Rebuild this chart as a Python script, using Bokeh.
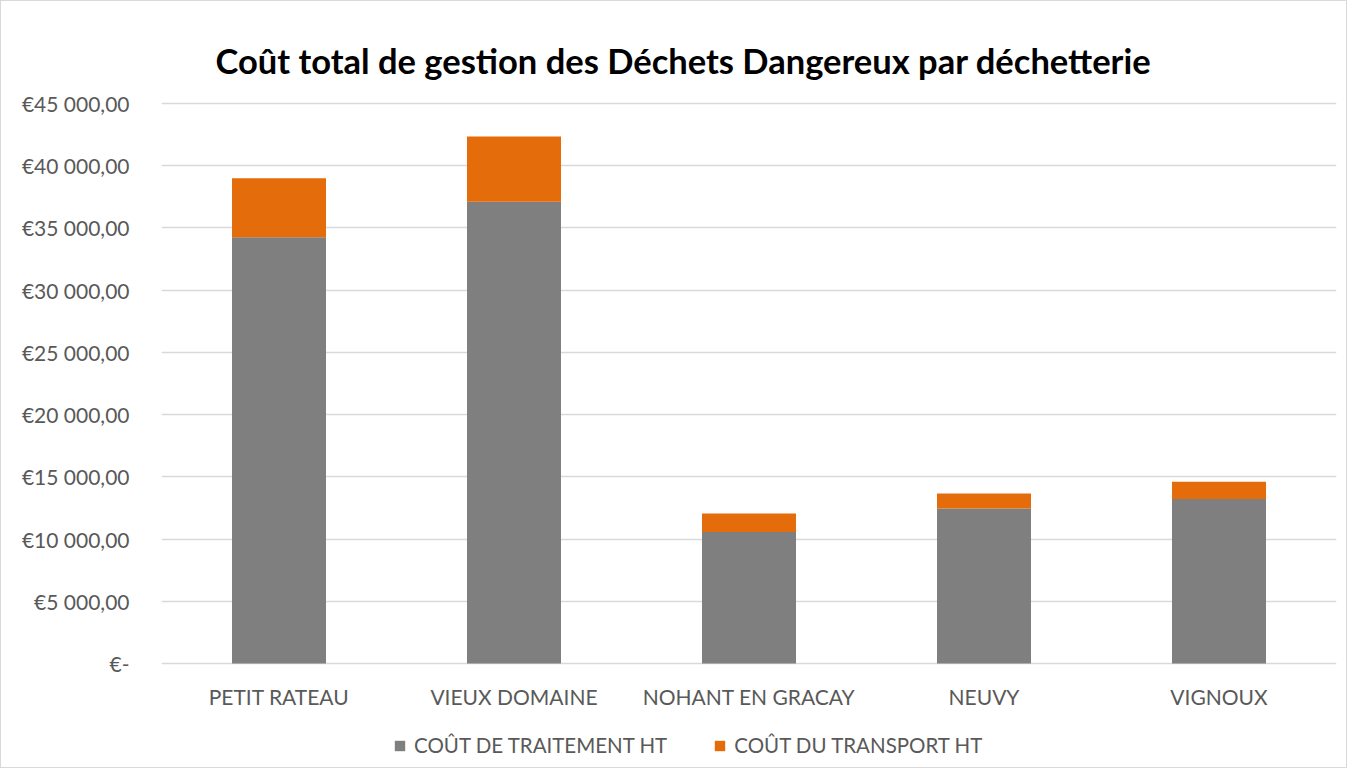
from bokeh.plotting import figure
from bokeh.models import (Range1d, FactorRange, FixedTicker, Legend, LegendItem, Label, ColumnDataSource)
from bokeh.core.properties import value
from bokeh.embed import file_html
from bokeh.resources import INLINE

categories = ["PETIT RATEAU", "VIEUX DOMAINE", "NOHANT EN GRACAY", "NEUVY", "VIGNOUX"]
traitement = [34250, 37100, 10560, 12460, 13210]
transport = [4740, 5250, 1500, 1210, 1390]
series_names = ["COÛT DE TRAITEMENT HT", "COÛT DU TRANSPORT HT"]
y_ticks = [0, 5000, 10000, 15000, 20000, 25000, 30000, 35000, 40000, 45000]
y_tick_labels = ["€-", "€5 000,00", "€10 000,00", "€15 000,00", "€20 000,00", "€25 000,00",
                 "€30 000,00", "€35 000,00", "€40 000,00", "€45 000,00"]
title_text = "Coût total de gestion des Déchets Dangereux par déchetterie"

FONT = "Lato"
TXT = "#595959"
GRAY = "#7f7f7f"
ORANGE = "#e46c0a"

# layout (pixels)
W, H = 1347, 768
LEFT, RIGHT, TOP, BOTTOM = 160, 12, 2, 2
AXIS_TOP_PX = 102        # canvas y of the 45000 gridline
PLOT_PX = 560            # pixels from 0 to 45000
YMAX = 45000
upp = YMAX / PLOT_PX     # data units per pixel
zero_px = AXIS_TOP_PX + PLOT_PX
y_hi = YMAX + (AXIS_TOP_PX - TOP) * upp
y_lo = -(H - BOTTOM - zero_px) * upp
n = len(categories)
frame_w = W - LEFT - RIGHT

src = ColumnDataSource(dict(cat=categories, trait=traitement, trans=transport))

p = figure(x_range=FactorRange(*categories, range_padding=0), y_range=Range1d(y_lo, y_hi),
           width=W, height=H, output_backend="svg", toolbar_location=None,
           min_border_left=LEFT, min_border_right=RIGHT, min_border_top=TOP, min_border_bottom=BOTTOM)

r = p.vbar_stack(["trait", "trans"], x="cat", width=0.4, source=src,
                 color=[GRAY, ORANGE], line_color=None)

# category labels drawn under the zero line
lab_src = ColumnDataSource(dict(cat=categories, y=[-32.5 * upp] * n))
p.text(x="cat", y="y", text="cat", source=lab_src, text_align="center", text_baseline="middle",
       text_font=value(FONT), text_font_size="21px", text_color=TXT)

# title
title = Label(x=(214 - LEFT) / frame_w * n, y=YMAX + (AXIS_TOP_PX - 58.7) * upp,
              text=title_text, text_align="left", text_baseline="alphabetic",
              text_font=FONT, text_font_size="34.5px", text_font_style="bold", text_color="#000000")
p.add_layout(title)

p.outline_line_color = None
p.background_fill_color = "white"
p.border_fill_color = "white"

p.xgrid.grid_line_color = None
p.ygrid.grid_line_color = "#d9d9d9"
p.ygrid.grid_line_width = 1.3
p.ygrid.ticker = FixedTicker(ticks=y_ticks)

p.yaxis.ticker = FixedTicker(ticks=y_ticks)
p.yaxis.major_label_overrides = {v: s for v, s in zip(y_ticks, y_tick_labels)}
p.yaxis.axis_line_color = None
p.yaxis.major_tick_line_color = None
p.yaxis.minor_tick_line_color = None
p.yaxis.major_label_standoff = 26
p.yaxis.major_label_text_font = FONT
p.yaxis.major_label_text_font_size = "21px"
p.yaxis.major_label_text_color = TXT

p.xaxis.visible = False

legend = Legend(items=[LegendItem(label=series_names[0], renderers=[r[0]]),
                       LegendItem(label=series_names[1], renderers=[r[1]])],
                orientation="horizontal", location=(232, 10),
                label_text_font=FONT, label_text_font_size="20.5px", label_text_color=TXT,
                glyph_width=13, glyph_height=13, spacing=46, label_standoff=8,
                border_line_color=None, background_fill_alpha=0, margin=0, padding=0)
p.add_layout(legend, "center")

p.styles = {"border": "1px solid #d9d9d9"}

open("out.html", "w").write(file_html(p, INLINE))
